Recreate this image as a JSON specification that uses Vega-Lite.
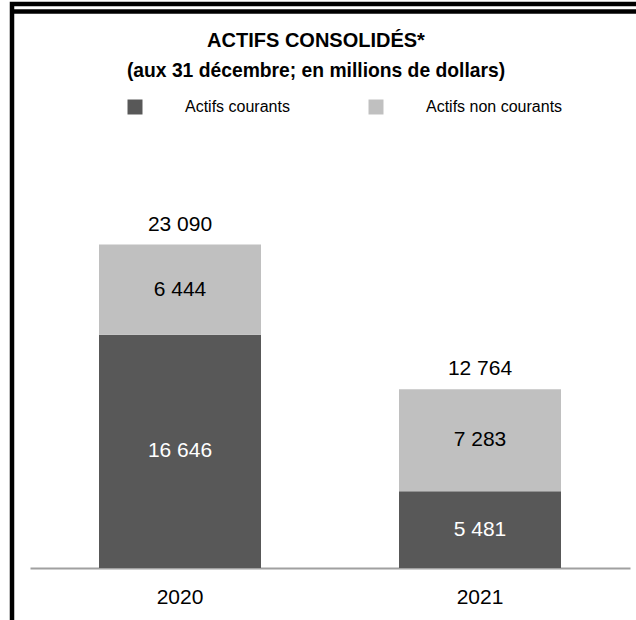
{
  "$schema": "https://vega.github.io/schema/vega-lite/v6.json",
  "width": 640,
  "height": 620,
  "autosize": {"type": "none"},
  "padding": {"left": 12, "top": 4, "right": -16, "bottom": -4},
  "background": "white",
  "title": {
    "text": "ACTIFS CONSOLIDÉS*",
    "subtitle": "(aux 31 décembre; en millions de dollars)",
    "font": "Liberation Sans",
    "fontSize": 20,
    "fontWeight": "bold",
    "color": "#000000",
    "subtitleFont": "Liberation Sans",
    "subtitleFontSize": 19.3,
    "subtitleFontWeight": "bold",
    "subtitleColor": "#000000",
    "subtitlePadding": 11,
    "anchor": "middle",
    "baseline": "top",
    "dx": -16,
    "dy": 81
  },
  "data": {
    "values": [
      {"year": "2020", "type": "Actifs courants", "value": 16646},
      {"year": "2020", "type": "Actifs non courants", "value": 6444},
      {"year": "2021", "type": "Actifs courants", "value": 5481},
      {"year": "2021", "type": "Actifs non courants", "value": 7283}
    ]
  },
  "transform": [
    {"stack": "value", "groupby": ["year"], "sort": [{"field": "type", "order": "ascending"}], "as": ["v0", "v1"]}
  ],
  "layer": [
    {
      "mark": {"type": "bar"},
      "encoding": {
        "x": {
          "field": "year", "type": "nominal",
          "scale": {"range": [18, 618], "paddingInner": 0.46, "paddingOuter": 0.23},
          "axis": {
            "title": null, "orient": "bottom", "offset": -56,
            "domainColor": "#a0a0a0", "domainWidth": 2, "ticks": false,
            "labelFont": "Liberation Sans", "labelFontSize": 21, "labelColor": "#000000",
            "labelPadding": 18, "labelAngle": 0
          }
        },
        "y": {"field": "v0", "type": "quantitative", "scale": {"domain": [0, 40271], "range": [564, 0], "nice": false, "zero": true}, "axis": null},
        "y2": {"field": "v1"},
        "color": {
          "field": "type", "type": "nominal",
          "scale": {"domain": ["Actifs courants", "Actifs non courants"], "range": ["#585858", "#c0c0c0"]},
          "legend": {
            "title": null, "orient": "none", "direction": "horizontal",
            "legendX": 115, "legendY": 95,
            "symbolType": "square", "symbolSize": 225, "symbolStrokeWidth": 0, "symbolOpacity": 1,
            "labelFont": "Liberation Sans", "labelFontSize": 16, "labelColor": "#000000",
            "labelOffset": 42, "columnPadding": 78
          }
        }
      }
    },
    {
      "transform": [{"calculate": "(datum.v0 + datum.v1) / 2", "as": "mid"}],
      "mark": {"type": "text", "font": "Liberation Sans", "fontSize": 21, "baseline": "middle", "align": "center"},
      "encoding": {
        "x": {"field": "year", "type": "nominal"},
        "y": {"field": "mid", "type": "quantitative"},
        "text": {"field": "value", "type": "quantitative", "format": ",d"},
        "color": {
          "condition": {"test": "datum.type === 'Actifs courants'", "value": "#ffffff"},
          "value": "#000000"
        }
      }
    },
    {
      "transform": [{"aggregate": [{"op": "sum", "field": "value", "as": "total"}], "groupby": ["year"]}],
      "mark": {"type": "text", "font": "Liberation Sans", "fontSize": 21, "baseline": "alphabetic", "align": "center", "dy": -14, "color": "#000000"},
      "encoding": {
        "x": {"field": "year", "type": "nominal"},
        "y": {"field": "total", "type": "quantitative"},
        "text": {"field": "total", "type": "quantitative", "format": ",d"}
      }
    },
    {
      "data": {"values": [{"top": 39736}]},
      "mark": {"type": "rule", "color": "#000000", "strokeWidth": 4.5},
      "encoding": {
        "y": {"field": "top", "type": "quantitative"}
      }
    }
  ],
  "config": {
    "locale": {"number": {"decimal": ",", "thousands": " ", "grouping": [3], "currency": ["", " $"]}},
    "view": {"stroke": "#000000", "strokeWidth": 4.5},
    "axis": {"grid": false}
  }
}
